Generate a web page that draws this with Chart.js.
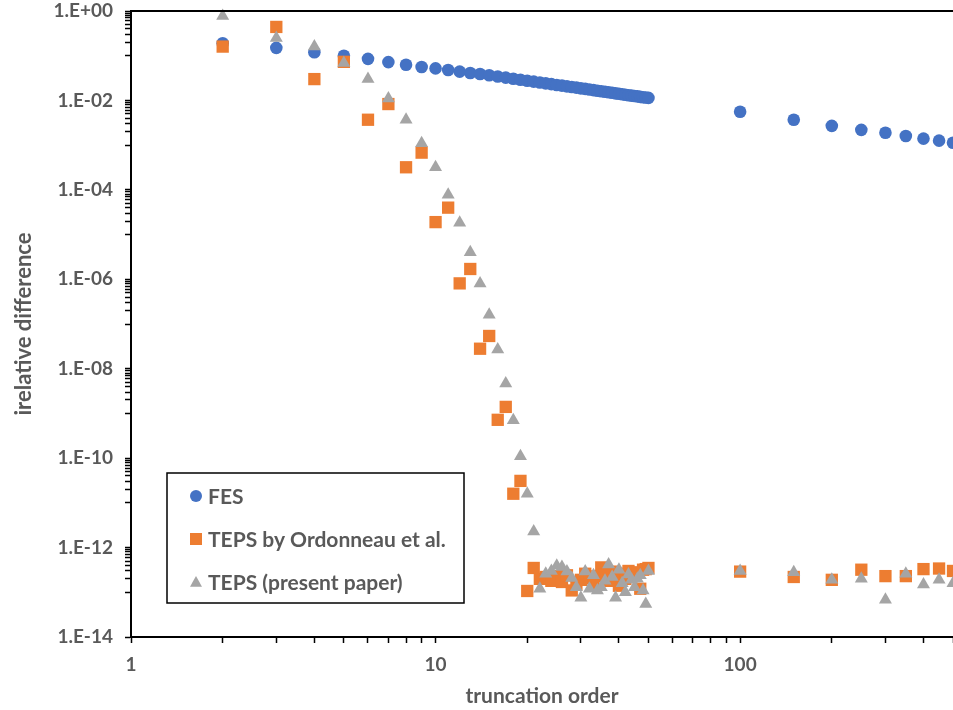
<!DOCTYPE html>
<html>
<head>
<meta charset="utf-8">
<title>relative difference vs truncation order</title>
<script src="https://cdn.jsdelivr.net/npm/chart.js@4.4.1/dist/chart.umd.min.js"></script>
<style>
  html, body { margin: 0; padding: 0; background: #fff; overflow: hidden; }
  #wrap { width: 953px; height: 710px; }
</style>
</head>
<body>
<div id="wrap"><canvas id="chart" width="953" height="710"></canvas></div>
<script>
// truncation orders: 2..50, then 100..500 step 50
const orders = [
  2, 3, 4, 5, 6, 7, 8, 9, 10, 11, 12, 13, 14, 15, 16, 17, 18, 19, 20,
  21, 22, 23, 24, 25, 26, 27, 28, 29, 30, 31, 32, 33, 34, 35, 36, 37, 38, 39, 40,
  41, 42, 43, 44, 45, 46, 47, 48, 49, 50,
  100, 150, 200, 250, 300, 350, 400, 450, 500
];

const fes = [
  0.19, 0.15, 0.12, 0.10, 0.085, 0.072, 0.063, 0.056, 0.052, 0.048, 0.044, 0.041, 0.039,
  0.0365, 0.0343, 0.0323, 0.0306, 0.0290, 0.0276,
  0.0263, 0.0252, 0.0241, 0.0231, 0.0222, 0.0214, 0.0206, 0.0199, 0.0193, 0.0186,
  0.0181, 0.0175, 0.0170, 0.0165, 0.0160, 0.0156, 0.0152, 0.0148, 0.0144, 0.0141,
  0.0137, 0.0134, 0.0131, 0.0128, 0.0126, 0.0123, 0.0120, 0.0118, 0.0116, 0.0114,
  0.0056, 0.0037, 0.0027, 0.0022, 0.0019, 0.0016, 0.0014, 0.00126, 0.00113
];

const tepsOrdonneau = [
  0.16, 0.44, 0.03, 0.073, 0.0037, 0.0083, 3.2e-4, 6.8e-4, 1.9e-5, 4.0e-5,
  8.1e-7, 1.7e-6, 2.8e-8, 5.4e-8, 7.2e-10, 1.4e-9, 1.6e-11, 3.1e-11, 1.07e-13,
  3.5e-13, 2.0e-13, 2.2e-13, 1.8e-13, 2.3e-13, 1.7e-13, 2.4e-13, 1.1e-13, 1.5e-13, 1.9e-13,
  2.6e-13, 2.1e-13, 1.5e-13, 2.3e-13, 3.6e-13, 2.5e-13, 1.8e-13, 2.9e-13, 2.2e-13, 1.4e-13,
  2.6e-13, 2.0e-13, 3.0e-13, 2.3e-13, 2.7e-13, 2.8e-13, 1.2e-13, 3.2e-13, 3.3e-13, 3.5e-13,
  2.9e-13, 2.2e-13, 1.9e-13, 3.2e-13, 2.3e-13, 2.3e-13, 3.3e-13, 3.4e-13, 3.0e-13
];

const tepsPresent = [
  0.77, 0.25, 0.16, 0.069, 0.03, 0.011, 0.0037, 1.1e-3, 3.2e-4, 7.8e-5,
  1.85e-5, 4.0e-6, 8.1e-7, 1.6e-7, 2.7e-8, 4.7e-9, 7.0e-10, 1.1e-10, 1.6e-11,
  2.3e-12, 1.2e-13, 2.6e-13, 3.0e-13, 3.9e-13, 3.7e-13, 2.9e-13, 2.1e-13, 1.3e-13, 7.5e-14,
  2.9e-13, 1.2e-13, 2.4e-13, 1.1e-13, 1.3e-13, 1.8e-13, 4.2e-13, 2.2e-13, 7.5e-14, 3.2e-13,
  1.6e-13, 1.0e-13, 2.5e-13, 1.9e-13, 1.3e-13, 2.0e-13, 2.4e-13, 1.1e-13, 5.5e-14, 3.0e-13,
  3.0e-13, 2.8e-13, 1.9e-13, 2.0e-13, 6.8e-14, 2.6e-13, 1.5e-13, 1.9e-13, 1.6e-13
];

const seriesNames = ['FES', 'TEPS by Ordonneau et al.', 'TEPS (present paper)'];

// axis ticks
const xTickValues = [1, 2, 3, 4, 5, 6, 7, 8, 9, 10, 20, 30, 40, 50, 60, 70, 80, 90, 100, 200, 300, 400, 500];
const xTickLabels = [1, 10, 100];
const yMajorValues = [1, 1e-2, 1e-4, 1e-6, 1e-8, 1e-10, 1e-12, 1e-14];

const textColor = '#595959';
Chart.defaults.font.family = 'Lato, "Open Sans", sans-serif';

function toPoints(values) {
  return values.map((v, i) => ({ x: orders[i], y: v }));
}

function yTicks() {
  const ticks = [];
  yMajorValues.forEach(v => {
    ticks.push({ value: v });
    if (v > 1e-14) {
      for (let k = 1; k <= 9; k++) ticks.push({ value: k * v / 10 });
    }
  });
  return ticks.sort((a, b) => a.value - b.value);
}

function sciLabel(v) {
  const e = Math.round(Math.log10(v));
  const sign = e < 0 ? '-' : '+';
  return '1.E' + sign + String(Math.abs(e)).padStart(2, '0');
}

// top edge of the plot area
const topBorder = {
  id: 'topBorder',
  afterDraw(chart) {
    const { ctx, chartArea } = chart;
    ctx.save();
    ctx.strokeStyle = '#000';
    ctx.lineWidth = 2;
    ctx.beginPath();
    ctx.moveTo(chartArea.left, chartArea.top);
    ctx.lineTo(chartArea.right + 2, chartArea.top);
    ctx.stroke();
    ctx.restore();
  }
};

// boxed legend inside the plot, lower left
const legendBox = {
  id: 'legendBox',
  afterDraw(chart) {
    const { ctx, chartArea } = chart;
    const left = chartArea.left + 36;
    const top = chartArea.top + 462;
    const w = 297, h = 130;
    ctx.save();
    ctx.fillStyle = '#fff';
    ctx.fillRect(left, top, w, h);
    ctx.strokeStyle = '#000';
    ctx.lineWidth = 1.5;
    ctx.strokeRect(left, top, w, h);
    ctx.font = 'bold 21px Lato, "Open Sans", sans-serif';
    ctx.textBaseline = 'middle';
    chart.data.datasets.forEach((ds, i) => {
      const cy = top + 23 + i * 43;
      const cx = left + 29;
      const r = 6;
      ctx.fillStyle = ds.backgroundColor;
      ctx.beginPath();
      if (ds.pointStyle === 'circle') {
        ctx.arc(cx, cy, r, 0, Math.PI * 2);
      } else if (ds.pointStyle === 'rect') {
        ctx.rect(cx - r, cy - r, 2 * r, 2 * r);
      } else {
        ctx.moveTo(cx, cy - r);
        ctx.lineTo(cx + r, cy + r * 0.8);
        ctx.lineTo(cx - r, cy + r * 0.8);
        ctx.closePath();
      }
      ctx.fill();
      ctx.fillStyle = textColor;
      ctx.fillText(ds.label, left + 41, cy + 1);
    });
    ctx.restore();
  }
};

new Chart(document.getElementById('chart'), {
  type: 'scatter',
  data: {
    datasets: [
      {
        label: seriesNames[0],
        data: toPoints(fes),
        pointStyle: 'circle',
        pointRadius: 6.3,
        backgroundColor: '#4472C4',
        borderWidth: 0,
        order: 3
      },
      {
        label: seriesNames[1],
        data: toPoints(tepsOrdonneau),
        pointStyle: 'rect',
        pointRadius: 8.7,
        backgroundColor: '#ED7D31',
        borderWidth: 0,
        order: 2
      },
      {
        label: seriesNames[2],
        data: toPoints(tepsPresent),
        pointStyle: 'triangle',
        pointRadius: 7.5,
        backgroundColor: '#A5A5A5',
        borderWidth: 0,
        order: 1
      }
    ]
  },
  options: {
    responsive: false,
    animation: false,
    clip: false,
    layout: { autoPadding: false, padding: { top: 11, left: 0, right: 0, bottom: 0 } },
    plugins: {
      legend: { display: false },
      tooltip: { enabled: false }
    },
    scales: {
      x: {
        type: 'logarithmic',
        min: 1,
        max: 500,
        afterBuildTicks: scale => { scale.ticks = xTickValues.map(v => ({ value: v })); },
        afterFit: scale => {
          scale.height = 73;
          scale.paddingLeft = 0;
          scale.paddingRight = 0;
        },
        ticks: {
          autoSkip: false,
          maxRotation: 0,
          padding: 10,
          color: textColor,
          font: { size: 19, weight: 'bold' },
          callback: v => (xTickLabels.includes(v) ? String(v) : '')
        },
        grid: {
          drawOnChartArea: false,
          drawTicks: true,
          tickLength: 6,
          tickWidth: 1.5,
          tickColor: '#000'
        },
        border: { display: true, color: '#000', width: 2 },
        title: {
          display: true,
          text: 'truncation order',
          color: textColor,
          font: { size: 21, weight: 'bold' },
          padding: { top: 0, bottom: 1 }
        }
      },
      y: {
        type: 'logarithmic',
        min: 1e-14,
        max: 1,
        afterBuildTicks: scale => { scale.ticks = yTicks(); },
        afterFit: scale => {
          scale.width = 131;
          scale.paddingTop = 0;
          scale.paddingBottom = 0;
        },
        ticks: {
          autoSkip: false,
          padding: 12,
          color: textColor,
          font: { size: 19, weight: 'bold' },
          callback: v => {
            const e = Math.log10(v);
            return Math.abs(e - Math.round(e)) < 1e-9 && Math.round(e) % 2 === 0 ? sciLabel(v) : '';
          }
        },
        grid: {
          drawOnChartArea: false,
          drawTicks: true,
          tickLength: 6,
          tickWidth: 1.5,
          tickColor: '#000'
        },
        border: { display: true, color: '#000', width: 2 },
        title: {
          display: true,
          text: 'irelative difference',
          color: textColor,
          font: { size: 22, weight: 'bold' },
          padding: { top: 11, bottom: 0 }
        }
      }
    }
  },
  plugins: [topBorder, legendBox]
});
</script>
</body>
</html>
